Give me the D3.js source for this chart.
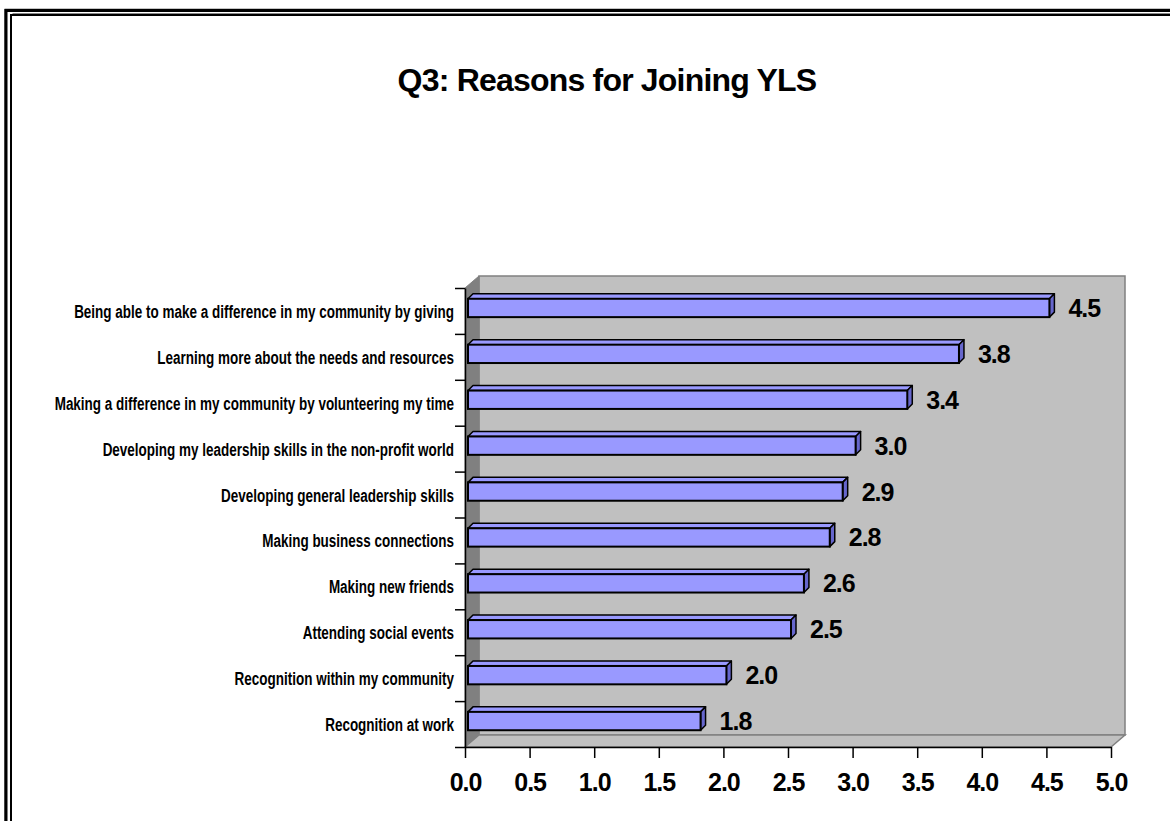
<!DOCTYPE html>
<html>
<head>
<meta charset="utf-8">
<script src="https://cdn.jsdelivr.net/npm/d3@7"></script>
<style>
  body { margin: 0; background: #fff; }
  svg { display: block; }
  text { font-family: "Liberation Sans", Arial, sans-serif; font-weight: bold; fill: #000; }
</style>
</head>
<body>
<svg id="chart" width="1170" height="821"></svg>
<script>
// Survey results: average rating per reason (top to bottom)
const categories = [
  "Being able to make a difference in my community by giving",
  "Learning more about the needs and resources",
  "Making a difference in my community by volunteering my time",
  "Developing my leadership skills in the non-profit world",
  "Developing general leadership skills",
  "Making business connections",
  "Making new friends",
  "Attending social events",
  "Recognition within my community",
  "Recognition at work"
];
const values = [4.5, 3.8, 3.4, 3.0, 2.9, 2.8, 2.6, 2.5, 2.0, 1.8];
const xTicks = [0, 0.5, 1, 1.5, 2, 2.5, 3, 3.5, 4, 4.5, 5];
const chartTitle = "Q3: Reasons for Joining YLS";

const svg = d3.select("#chart");

// Double frame (top and left edges)
svg.append("path").attr("d", "M4.5,821V9H1170").attr("fill", "none").attr("stroke", "#888").attr("stroke-width", 1);
svg.append("path").attr("d", "M6,821V10.5H1170").attr("fill", "none").attr("stroke", "#000").attr("stroke-width", 3);
svg.append("path").attr("d", "M11,821V15H1170").attr("fill", "none").attr("stroke", "#000").attr("stroke-width", 2);
svg.append("path").attr("d", "M1170,13.5H12.5").attr("fill", "none").attr("stroke", "#888").attr("stroke-width", 1);

// Title
svg.append("text")
  .attr("x", 607).attr("y", 91)
  .attr("text-anchor", "middle")
  .style("font-size", "32px")
  .style("letter-spacing", "-0.8px")
  .text(chartTitle);

// Geometry of the 3-D plot box
const plotLeft = 465, plotRight = 1111, plotTop = 288, plotBottom = 747;
const depthX = 14, depthY = 12;

const x = d3.scaleLinear().domain([0, 5]).range([plotLeft, plotRight]);
const y = d3.scaleBand().domain(categories).range([plotTop, plotBottom]);
const yEdge = d3.scaleLinear().domain([0, categories.length]).range([plotTop, plotBottom]);

const box = svg.append("g");
// back wall
box.append("rect")
  .attr("x", plotLeft + depthX).attr("y", plotTop - depthY)
  .attr("width", plotRight - plotLeft).attr("height", plotBottom - plotTop)
  .attr("fill", "#c0c0c0").attr("stroke", "#808080").attr("stroke-width", 1.5);
// side wall
box.append("polygon")
  .attr("points", [[plotLeft, plotTop], [plotLeft + depthX, plotTop - depthY], [plotLeft + depthX, plotBottom - depthY], [plotLeft, plotBottom]].join(" "))
  .attr("fill", "#808080").attr("stroke", "#808080");
// floor
box.append("polygon")
  .attr("points", [[plotLeft, plotBottom], [plotLeft + depthX, plotBottom - depthY], [plotRight + depthX, plotBottom - depthY], [plotRight, plotBottom]].join(" "))
  .attr("fill", "#c0c0c0").attr("stroke", "#808080").attr("stroke-width", 1.5);

// Bars
const bw = y.bandwidth();
const barH = bw * 0.4;
const shift = 3;       // bar sits slightly inside the box depth
const barDepth = 5;

const bars = svg.append("g").selectAll("g")
  .data(categories.map((c, i) => ({ c, v: values[i] })))
  .join("g");

bars.each(function (p) {
  const g = d3.select(this);
  const d = barDepth;
  const x0 = x(0) + shift, x1 = x(p.v) + shift;
  const fy = y(p.c) + bw / 2 - shift - barH / 2;
  g.append("polygon")
    .attr("points", [[x0, fy], [x0 + d, fy - d], [x1 + d, fy - d], [x1, fy]].join(" "))
    .attr("fill", "#9999ff").attr("stroke", "#000").attr("stroke-width", 1.5).attr("stroke-linejoin", "round");
  g.append("polygon")
    .attr("points", [[x1, fy], [x1 + d, fy - d], [x1 + d, fy + barH - d], [x1, fy + barH]].join(" "))
    .attr("fill", "#6666cc").attr("stroke", "#000").attr("stroke-width", 1.5).attr("stroke-linejoin", "round");
  g.append("rect")
    .attr("x", x0).attr("y", fy).attr("width", x1 - x0).attr("height", barH)
    .attr("fill", "#9999ff").attr("stroke", "#000").attr("stroke-width", 2);
  g.append("text")
    .attr("x", x(p.v) + 22).attr("y", fy + barH / 2 + 9)
    .style("font-size", "25px").style("letter-spacing", "-1px")
    .text(d3.format(".1f")(p.v));
});

// Value axis
const xAxis = svg.append("g")
  .attr("transform", `translate(0,${plotBottom})`)
  .call(d3.axisBottom(x).tickValues(xTicks).tickFormat(d3.format(".1f")).tickSize(11).tickSizeOuter(0));
xAxis.select(".domain").attr("stroke", "#000").attr("stroke-width", 1.5);
xAxis.selectAll(".tick line").attr("stroke", "#000").attr("stroke-width", 1.5);
xAxis.selectAll(".tick text")
  .attr("y", 44).attr("dy", null)
  .style("font-family", '"Liberation Sans", Arial, sans-serif')
  .style("font-weight", "bold").style("font-size", "25px").style("letter-spacing", "-1px")
  .attr("fill", "#000");

// Category axis: ticks at band edges
const yAxis = svg.append("g")
  .attr("transform", `translate(${plotLeft},0)`)
  .call(d3.axisLeft(yEdge).ticks(categories.length).tickFormat("").tickSize(10).tickSizeOuter(0));
yAxis.select(".domain").attr("stroke", "#000").attr("stroke-width", 1.5);
yAxis.selectAll(".tick line").attr("stroke", "#000").attr("stroke-width", 1.5);

// Category labels
svg.append("g").selectAll("g")
  .data(categories)
  .join("g")
  .attr("transform", c => `translate(454,${y(c) + bw / 2 + 7}) scale(0.71,1)`)
  .append("text")
  .attr("text-anchor", "end")
  .style("font-size", "19px")
  .text(c => c);
</script>
</body>
</html>
